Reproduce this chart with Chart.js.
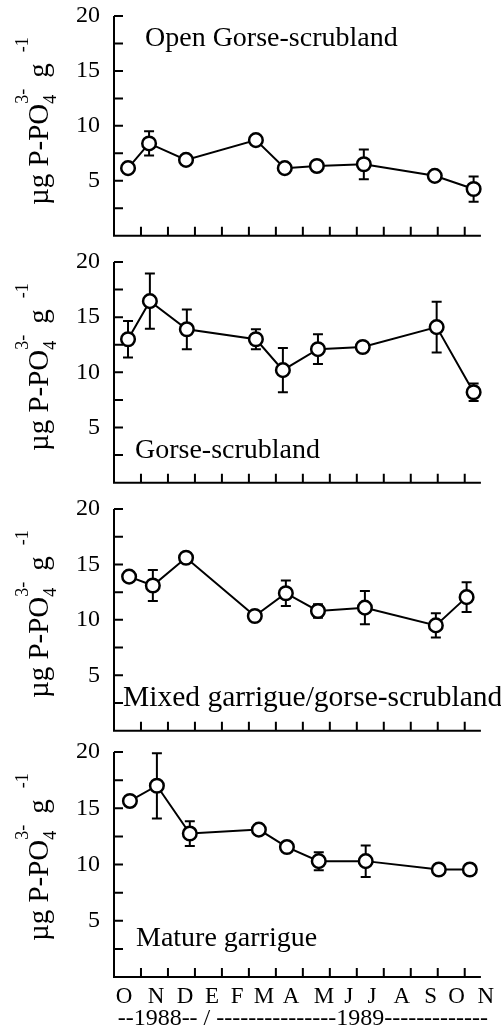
<!DOCTYPE html>
<html>
<head>
<meta charset="utf-8">
<script src="https://cdn.jsdelivr.net/npm/chart.js@4/dist/chart.umd.min.js"></script>
<style>
  html, body { margin: 0; padding: 0; background: #fff; }
  #wrap { position: relative; width: 501px; height: 1031px; overflow: hidden; }
  #wrap canvas { position: absolute; left: 0; }
</style>
</head>
<body>
<div id="wrap"></div>
<script>
// x values are months counted from 1 Oct 1988 (0 = Oct 1988, 12 = Oct 1989)
const monthLabels = ['O', 'N', 'D', 'E', 'F', 'M', 'A', 'M', 'J', 'J', 'A', 'S', 'O', 'N'];
const monthLabelPos = [0.37, 1.56, 2.63, 3.63, 4.56, 5.56, 6.56, 7.78, 8.7, 9.56, 10.67, 11.74, 12.7, 13.78];
const monthTicks = [1, 2, 3, 4, 5, 6, 7, 8, 9, 10, 11, 12, 13];
const yTickValues = [2.5, 5, 7.5, 10, 12.5, 15, 17.5, 20];
const yearLine = '--1988-- / ---------------1989-------------';

const siteNames = ['Open Gorse-scrubland', 'Gorse-scrubland', 'Mixed garrigue/gorse-scrubland', 'Mature garrigue'];

const openGorseX = [0.52, 1.30, 2.67, 5.26, 6.33, 7.52, 9.26, 11.89, 13.33];
const openGorseY = [6.15, 8.4, 6.9, 8.7, 6.15, 6.35, 6.5, 5.45, 4.25];
const openGorseErr = [0.4, 1.1, 0.3, 0.2, 0.2, 0.2, 1.35, 0.3, 1.15];

const gorseX = [0.52, 1.33, 2.70, 5.26, 6.26, 7.56, 9.22, 11.96, 13.33];
const gorseY = [13.0, 16.45, 13.9, 13.0, 10.2, 12.1, 12.3, 14.1, 8.2];
const gorseErr = [1.65, 2.5, 1.8, 0.9, 2.0, 1.35, 0.2, 2.3, 0.8];

const mixedX = [0.56, 1.44, 2.67, 5.22, 6.37, 7.56, 9.30, 11.93, 13.07];
const mixedY = [13.9, 13.1, 15.6, 10.35, 12.4, 10.8, 11.1, 9.5, 12.05];
const mixedErr = [0.3, 1.4, 0.2, 0.2, 1.15, 0.6, 1.5, 1.1, 1.35];

const matureX = [0.59, 1.59, 2.81, 5.37, 6.41, 7.59, 9.33, 12.04, 13.19];
const matureY = [15.65, 17.0, 12.75, 13.1, 11.55, 10.3, 10.3, 9.55, 9.55];
const matureErr = [0.3, 2.9, 1.1, 0.3, 0.2, 0.8, 1.4, 0.2, 0.3];

const series = [
  { x: openGorseX, y: openGorseY, err: openGorseErr },
  { x: gorseX, y: gorseY, err: gorseErr },
  { x: mixedX, y: mixedY, err: mixedErr },
  { x: matureX, y: matureY, err: matureErr }
];

// layout of each panel: plot top/bottom on the page, site label spot
const panels = [
  { top: 16, bottom: 239, labelX: 145, labelY: 30, labelSize: 28 },
  { top: 262, bottom: 486, labelX: 135, labelY: 196, labelSize: 28 },
  { top: 509, bottom: 734, labelX: 123, labelY: 197, labelSize: 29.5 },
  { top: 752, bottom: 977, labelX: 136, labelY: 194, labelSize: 28 }
];

const SERIF = '"Liberation Serif", "Times New Roman", serif';

const panelDecor = {
  id: 'panelDecor',
  beforeDatasetsDraw(chart, args, opts) {
    const { ctx, chartArea } = chart;
    const xs = chart.scales.x, ys = chart.scales.y;
    const left = chartArea.left;
    const yb = ys.getPixelForValue(0);
    const yt = ys.getPixelForValue(20);
    const xr = xs.getPixelForValue(13.6);
    ctx.save();
    ctx.strokeStyle = '#000';
    ctx.lineWidth = 2;
    ctx.beginPath();
    ctx.moveTo(left, yt);
    ctx.lineTo(left, yb);
    ctx.lineTo(xr, yb);
    yTickValues.forEach(v => {
      const py = ys.getPixelForValue(v);
      ctx.moveTo(left, py);
      ctx.lineTo(left + 9, py);
    });
    monthTicks.forEach(m => {
      const px = xs.getPixelForValue(m);
      ctx.moveTo(px, yb);
      ctx.lineTo(px, yb - 9);
    });
    ctx.stroke();

    // error bars, under the markers
    const s = opts.series;
    ctx.beginPath();
    s.x.forEach((xv, i) => {
      const px = xs.getPixelForValue(xv);
      const hi = ys.getPixelForValue(s.y[i] + s.err[i]);
      const lo = ys.getPixelForValue(s.y[i] - s.err[i]);
      ctx.moveTo(px, hi);
      ctx.lineTo(px, lo);
      ctx.moveTo(px - 5, hi);
      ctx.lineTo(px + 5, hi);
      ctx.moveTo(px - 5, lo);
      ctx.lineTo(px + 5, lo);
    });
    ctx.stroke();
    ctx.restore();
  },
  afterDraw(chart, args, opts) {
    const { ctx, chartArea } = chart;
    const p = opts.panel;
    ctx.save();
    ctx.fillStyle = '#000';
    ctx.textBaseline = 'alphabetic';
    ctx.textAlign = 'left';

    // site name
    ctx.font = p.labelSize + 'px ' + SERIF;
    ctx.fillText(opts.name, p.labelX, chartArea.top + p.labelY);

    // y axis title: µg P-PO4(3-) g(-1)
    ctx.translate(48, chartArea.top + 189);
    ctx.rotate(-Math.PI / 2);
    const big = '29px ' + SERIF, small = '18px ' + SERIF;
    ctx.font = big;
    ctx.fillText('\u00b5g P-PO', 0, 0);
    let cx = ctx.measureText('\u00b5g P-PO').width;
    ctx.font = small;
    ctx.fillText('4', cx, 8);
    ctx.fillText('3-', cx, -20);
    cx += ctx.measureText('3-').width + 11;
    ctx.font = big;
    ctx.fillText('g', cx, 0);
    cx += ctx.measureText('g').width + 11;
    ctx.font = small;
    ctx.fillText('-1', cx, -20);
    ctx.restore();
  }
};

const wrap = document.getElementById('wrap');

panels.forEach((p, k) => {
  const isLast = k === panels.length - 1;
  const padTop = 16;
  const padBottom = isLast ? 0 : 6;
  const canvasTop = p.top - padTop;
  const canvasHeight = isLast ? 1031 - canvasTop : (p.bottom - p.top) + padTop + padBottom;

  const canvas = document.createElement('canvas');
  canvas.width = 501;
  canvas.height = canvasHeight;
  canvas.style.top = canvasTop + 'px';
  canvas.style.width = '501px';
  canvas.style.height = canvasHeight + 'px';
  wrap.appendChild(canvas);

  const s = series[k];

  new Chart(canvas.getContext('2d'), {
    type: 'scatter',
    data: {
      datasets: [{
        data: s.x.map((v, i) => ({ x: v, y: s.y[i] })),
        showLine: true,
        tension: 0,
        borderColor: '#000',
        borderWidth: 2,
        pointRadius: 6.8,
        pointBorderWidth: 2.5,
        pointBackgroundColor: '#fff',
        pointBorderColor: '#000'
      }]
    },
    options: {
      responsive: false,
      animation: false,
      devicePixelRatio: 1,
      layout: { padding: { top: padTop, right: 8, bottom: padBottom, left: 0 } },
      plugins: {
        legend: { display: false },
        tooltip: { enabled: false },
        panelDecor: { panel: p, name: siteNames[k], series: s }
      },
      scales: {
        x: {
          type: 'linear',
          min: 0,
          max: 14,
          display: isLast,
          afterFit: scale => {
            scale.height = isLast ? 54 : 0;
            scale.paddingLeft = 0;
            scale.paddingRight = 0;
          },
          afterBuildTicks: scale => { scale.ticks = monthLabelPos.map(v => ({ value: v })); },
          ticks: {
            callback: (v, i) => monthLabels[i],
            autoSkip: false,
            maxRotation: 0,
            padding: 6,
            color: '#000',
            font: { family: SERIF, size: 23 }
          },
          grid: { display: false, drawTicks: false },
          border: { display: false },
          title: {
            display: true,
            text: yearLine,
            padding: { top: 0, bottom: -2 },
            color: '#000',
            font: { family: SERIF, size: 24 }
          }
        },
        y: {
          type: 'linear',
          min: 0,
          max: 20,
          afterFit: scale => {
            scale.width = 114;
            scale.paddingTop = 0;
            scale.paddingBottom = 0;
          },
          afterBuildTicks: scale => { scale.ticks = yTickValues.map(v => ({ value: v })); },
          ticks: {
            callback: v => (v % 5 === 0 ? String(v) : ''),
            autoSkip: false,
            padding: 14,
            color: '#000',
            font: { family: SERIF, size: 24 }
          },
          grid: { display: false, drawTicks: false },
          border: { display: false }
        }
      }
    },
    plugins: [panelDecor]
  });
});
</script>
</body>
</html>
